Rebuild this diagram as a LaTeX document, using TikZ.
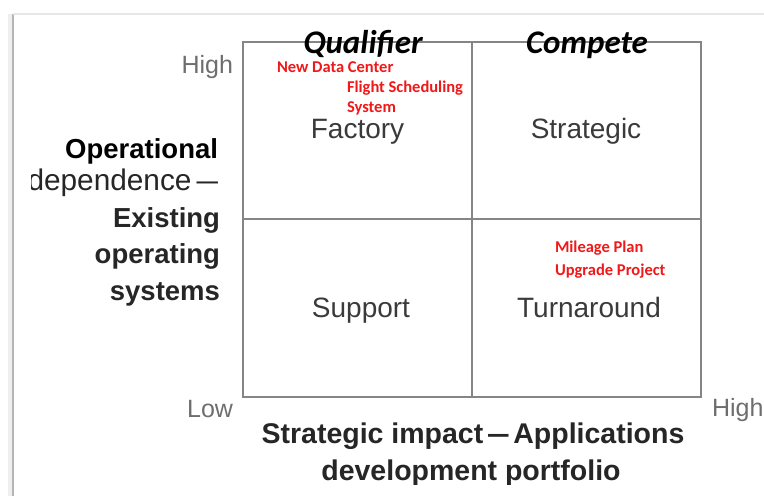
\documentclass[tikz,border=0pt]{standalone}
\usepackage{graphicx}
\usepackage{fontspec}
\setmainfont{Liberation Sans}
\newfontfamily\calibri{Carlito}
\definecolor{gridgray}{HTML}{858585}
\definecolor{quadtext}{HTML}{3A3A3A}
\definecolor{leveltext}{HTML}{6E6E6E}
\definecolor{axistext}{HTML}{262626}
\definecolor{notered}{HTML}{F01818}
\definecolor{frameline}{HTML}{B4B4B4}
\definecolor{frameshade}{HTML}{EEEEEE}
\definecolor{frametop}{HTML}{E6E6E6}
\newcommand{\shortdash}{\scalebox{0.72}[1]{—}}
\begin{document}
\begin{tikzpicture}[x=1pt,y=-1pt,
  every node/.style={inner sep=0pt,outer sep=0pt},
  gridline/.style={draw=gridgray,line width=1.4pt},
  quad/.style={font=\fontsize{28}{28}\selectfont,text=quadtext,anchor=base},
  level/.style={font=\fontsize{25}{25}\selectfont,text=leveltext},
  axis/.style={font=\bfseries\fontsize{27.5}{30}\selectfont,text=axistext},
  zone/.style={font=\calibri\bfseries\itshape\fontsize{33}{33}\selectfont,anchor=base},
  note/.style={font=\calibri\bfseries\fontsize{16.5}{20}\selectfont,text=notered,anchor=base west}]
\clip (0,0) rectangle (764,496);
\fill[white] (0,0) rectangle (764,496);

% page frame with a soft shadow on the left
\fill[frameshade] (8,14) rectangle (13,496);
\draw[frameline,line width=2pt] (13,14) -- (13,496);
\draw[frametop,line width=1.2pt] (13,14) -- (764,14);

% the 2x2 grid
\draw[gridline] (243,42) rectangle (701,397);
\draw[gridline] (472,42) -- (472,397);
\draw[gridline] (243,219) -- (701,219);

% scale ends
\node[level,anchor=base east] (yhigh) at (233,73) {High};
\node[level,anchor=base east] (ylow) at (233,417) {Low};
\node[level,anchor=base west] (xhigh) at (712,416) {High};

% column headings
\node[zone] (qual) at (363,53) {Qualifier};
\node[zone] (comp) at (587,53) {Compete};

% quadrant names
\node[quad] (factory) at (357.5,138) {Factory};
\node[quad] (strategic) at (586,138) {Strategic};
\node[quad] (support) at (361,317) {Support};
\node[quad] (turnaround) at (589,317) {Turnaround};

% projects placed in the quadrants
\node[note] (datacenter) at (277,72) {New Data Center};
\node[note] (flight1) at (347,92) {Flight Scheduling};
\node[note] (flight2) at (347,112) {System};
\node[note] (mileage1) at (555,252) {Mileage Plan};
\node[note] (mileage2) at (555,275) {Upgrade Project};

% vertical axis title
\node[axis,text=black,anchor=base east] (yt1) at (218,158) {Operational};
\begin{scope}
  \clip (31,0) rectangle (764,496);
  \node[font=\fontsize{29.8}{30}\selectfont,text=axistext,anchor=base east] (yt2) at (218,190) {dependence\,\shortdash};
\end{scope}
\node[axis,anchor=base east] (yt3) at (220,227) {Existing};
\node[axis,anchor=base east] (yt4) at (220,263) {operating};
\node[axis,anchor=base east] (yt5) at (220,300) {systems};

% horizontal axis title
\begin{scope}
  \clip (0,0) rectangle (764,484);
  \node[axis,font=\bfseries\fontsize{28.5}{30}\selectfont,anchor=base] (xt1) at (473,443) {Strategic impact\,\shortdash\,Applications};
  \node[axis,font=\bfseries\fontsize{28.5}{30}\selectfont,anchor=base] (xt2) at (471,480) {development portfolio};
\end{scope}
\end{tikzpicture}
\end{document}
